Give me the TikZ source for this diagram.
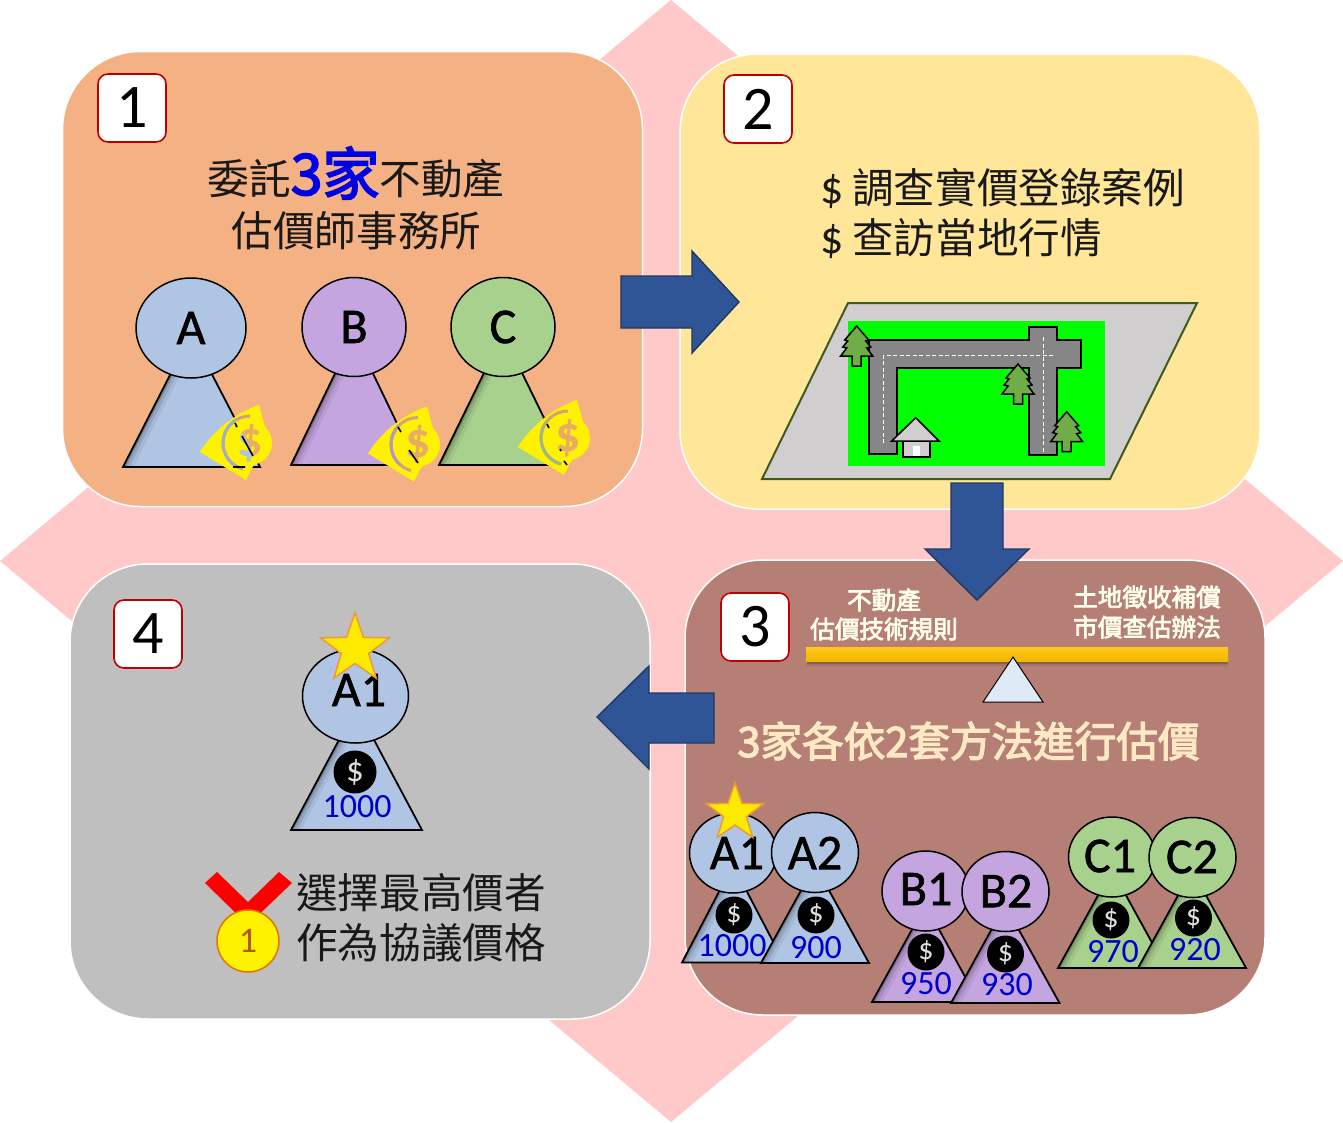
\documentclass[tikz,border=0pt]{standalone}
\usepackage{fontspec}
\usetikzlibrary{shapes.geometric,shapes.misc,calc}
\setmainfont{Carlito}
\newfontfamily\heavy[FakeBold=1.2]{Carlito}
\newfontfamily\cjk{Noto Sans CJK TC}
\newfontfamily\cjkm[FakeBold=3]{Noto Sans CJK TC}
\newcommand\fsz[1]{\fontsize{#1}{#1}\selectfont}
\definecolor{pinkbg}{HTML}{FFC9C9}
\definecolor{pone}{HTML}{F4B183}
\definecolor{ptwo}{HTML}{FFE699}
\definecolor{pthree}{HTML}{B67F75}
\definecolor{pfour}{HTML}{BFBFBF}
\definecolor{arrowblue}{HTML}{2F5597}
\definecolor{arrowedge}{HTML}{1F3864}
\definecolor{pblue}{HTML}{B0C4E4}
\definecolor{ppurple}{HTML}{C5A5E0}
\definecolor{pgreen}{HTML}{A9D18E}
\definecolor{numblue}{HTML}{0000CC}
\definecolor{cream}{HTML}{FFE9C4}
\definecolor{lotgray}{HTML}{D0CECE}
\definecolor{lotedge}{HTML}{3F5A1F}
\definecolor{treegreen}{HTML}{70AD47}
\definecolor{starorange}{HTML}{ED9B33}
\definecolor{fulcrum}{HTML}{DEEBF7}
\definecolor{dollartint}{HTML}{E8AC64}
\definecolor{beamtop}{HTML}{FFC71A}
\definecolor{beambot}{HTML}{F0B800}
\tikzset{
  panel/.style={draw=white,line width=1.5pt,rounded corners=78pt,minimum width=#1,minimum height=455pt,inner sep=0pt},
  numbox/.style={draw=red!75!black,line width=1.6pt,fill=white,rounded corners=10pt,minimum size=68pt,inner sep=0pt,font=\fsz{62}},
  bigarrow/.style={fill=arrowblue,draw=arrowedge,line width=1.4pt,line join=miter},
  head/.style={ellipse,draw=black,line width=1.5pt,inner sep=0pt},
  txt/.style={inner sep=0pt,font=\cjk\fsz{41.6},text=black!90,align=center},
  smalltxt/.style={inner sep=0pt,font=\cjkm\fsz{24.6},text=white!92!yellow,align=center},
  amount/.style={inner sep=0pt,text=numblue,font=\fsz{34}},
  coin/.style={circle,fill=black,inner sep=0pt,text=white!88!black},
  plabel/.style={inner sep=0pt,text=black,font=\heavy\fsz{50}},
  staricon/.style={star,star points=5,star point ratio=2.5,fill=yellow!92!orange,draw=starorange,line width=1.5pt,inner sep=0pt},
  treeicon/.style={fill=treegreen,draw=black,line width=1.5pt,line join=miter},
}
% #1 fill, #2 cx, #3 apex y, #4 left, #5 right, #6 base y
\newcommand\pawnbody[6]{%
  \path[fill=#1] (#4,#6)--(#2,#3)--(#5,#6)--cycle;
  \begin{scope}
    \clip (#4,#6)--(#2,#3)--(#5,#6)--cycle;
    \draw[black,opacity=.06,line width=18pt] (#4,#6)--(#2,#3);
    \draw[black,opacity=.10,line width=11pt] (#4,#6)--(#2,#3);
    \draw[black,opacity=.18,line width=5pt] (#4,#6)--(#2,#3);
  \end{scope}
  \draw[black,line width=1.8pt] (#4,#6)--(#2,#3)--(#5,#6)--cycle;
}
% #1 id, #2 fill, #3 cx, #4 cy, #5 width, #6 height
\newcommand\pawnhead[6]{\node[head,fill=#2,minimum width=#5pt,minimum height=#6pt] (#1) at (#3,#4) {};}
% money icon: #1 id, #2 dx, #3 dy, #4 pawn colour, #5 triangle path for clip, #6 black marks
\newcommand\moneyicon[6]{%
  \begin{scope}[shift={(#2,#3)}]
    \fill[yellow] (200,452) .. controls (212,432) and (235,413) .. (259,405) -- (264,423) -- (270,445) -- (252,468) -- (246,480) -- cycle;
    \draw[line width=3pt,color=pone!70!gray] (250,416) arc[start angle=270,end angle=105,radius=27];
    \node[circle,fill=yellow,minimum size=44pt,inner sep=0pt] (#1coin) at (250,443) {};
    \node[inner sep=0pt,font=\bfseries\fsz{50},text=dollartint] (#1sym) at (250,443) {\$};
  \end{scope}
  \begin{scope}
    \clip #5;
    \begin{scope}[shift={(#2,#3)}]
      \node[inner sep=0pt,font=\bfseries\fsz{50},text=#4] at (250,443) {\$};
      \draw[line width=3pt,color=#4!70!gray] (250,416) arc[start angle=270,end angle=105,radius=27];
    \end{scope}
  \end{scope}
  #6
}
\begin{document}
\begin{tikzpicture}[x=1pt,y=-1pt]
\useasboundingbox (0,0) rectangle (1343,1122);
\fill[white] (0,0) rectangle (1343,1122);
\fill[pinkbg] (671,0)--(1343,561)--(671,1122)--(0,561)--cycle;

% panels
\node[panel=580pt,fill=pone] (p1) at (352.5,279) {};
\node[panel=580pt,fill=ptwo] (p2) at (970,281.5) {};
\node[panel=580pt,fill=pthree] (p3) at (975,787.5) {};
\node[panel=580pt,fill=pfour] (p4) at (360,791.5) {};

% block arrows
\path[bigarrow] (621,276)--(692,276)--(692,251)--(739,302)--(692,353)--(692,328)--(621,328)--cycle;
\path[bigarrow] (951,483)--(1003,483)--(1003,549)--(1029,549)--(977,600)--(925,549)--(951,549)--cycle;
\path[bigarrow] (714,693)--(649,693)--(649,666)--(597,717)--(649,769)--(649,743)--(714,743)--cycle;

% number boxes
\node[numbox] (n1) at (132,108) {1};
\node[numbox] (n2) at (758,109) {2};
\node[numbox] (n3) at (755,627) {3};
\node[numbox] (n4) at (148,634) {4};

% panel 1
\node[txt] (t11) at (356,173) {委託{\cjkm\fsz{57}\textcolor{blue!90!black}{3家}}不動產};
\node[txt] (t12) at (356.5,231) {估價師事務所};

\pawnbody{pblue}{191}{334}{123}{260}{467}
\pawnhead{hA}{pblue}{191}{328}{110}{100}
\node[plabel] (lA) at (191,328) {A};
\moneyicon{mA}{0}{0}{pblue}{(123,467)--(191,334)--(260,467)--cycle}{
  \draw[black,line width=1.6pt] (235,423)--(237,427) (242,436)--(253,456) (233,467)--(245,467) (253,467)--(259,467);}

\pawnbody{ppurple}{354}{334}{291}{417}{465}
\pawnhead{hB}{ppurple}{354}{327}{104}{99}
\node[plabel] (lB) at (354,327) {B};
\moneyicon{mB}{168}{1.5}{ppurple}{(291,465)--(354,334)--(417,465)--cycle}{
  \draw[black,line width=1.6pt] (398,427)--(401,432) (409,450)--(418,463);}

\pawnbody{pgreen}{503}{334}{439}{567}{465}
\pawnhead{hC}{pgreen}{503}{327}{104}{99}
\node[plabel] (lC) at (503,327) {C};
\moneyicon{mC}{318}{-5}{pgreen}{(439,465)--(503,334)--(567,465)--cycle}{
  \draw[black,line width=1.6pt] (547,424)--(549,428) (560,449)--(561,451) (564,461)--(567,465);}

% panel 2
\node[txt,anchor=west] (t21) at (820,188) {\makebox[32pt][l]{\fontspec{Carlito}\fsz{46}\$}調查實價登錄案例};
\node[txt,anchor=west] (t22) at (820,238) {\makebox[32pt][l]{\fontspec{Carlito}\fsz{46}\$}查訪當地行情};
\draw[fill=lotgray,draw=lotedge,line width=2pt] (848,303)--(1197,303)--(1110,479)--(762,479)--cycle;
\fill[green] (848,321) rectangle (1105,466);
\draw[fill=gray!95!white,draw=black,line width=1.5pt,line join=miter]
  (869,454)--(869,340)--(1029,340)--(1029,327)--(1057,327)--(1057,340)--(1081,340)--(1081,368)--(1057,368)--(1057,455)--(1029,455)--(1029,368)--(897,368)--(897,454)--cycle;
\draw[white,line width=1pt,dash pattern=on 4pt off 2.5pt] (883,443)--(883,355.7)--(1055,355.7);
\draw[white,line width=1pt,dash pattern=on 4pt off 2.5pt] (1043,337)--(1043,453);
\foreach \tx/\ty in {856.7/326,1018/364,1066.7/411.7}{
  \path[treeicon,shift={(\tx,\ty)}] (0,0)--(12,14)--(9,15)--(14,21)--(10,22)--(16,30)--(4.5,30)--(4.5,40)--(-4.5,40)--(-4.5,30)--(-16,30)--(-10,22)--(-14,21)--(-9,15)--(-12,14)--cycle;
}
\draw[fill=lotgray,draw=black,line width=1.5pt] (903,441) rectangle (930,457);
\fill[white] (913,446) rectangle (920,456);
\draw[fill=lotgray,draw=black,line width=1.5pt,line join=miter] (915.7,417.7)--(939,441)--(891.7,441)--cycle;

% panel 3
\node[smalltxt] (t31) at (884,600) {不動產};
\node[smalltxt] (t32) at (884,629) {估價技術規則};
\node[smalltxt] (t33) at (1147,597) {土地徵收補償};
\node[smalltxt] (t34) at (1147,627) {市價查估辦法};
\fill[black,opacity=.10] (807,652) rectangle (1228,666);
\fill[black,opacity=.16] (807,652) rectangle (1228,664);
\shade[top color=beamtop,bottom color=beambot] (806,647) rectangle (1228,661);
\draw[fill=fulcrum,draw=black,line width=1pt,line join=miter] (1013,657)--(1043,702)--(983,702)--cycle;
\node[inner sep=0pt,font=\cjkm\fsz{41.6},text=cream] (t35) at (968.5,741) {3家各依2套方法進行估價};

\pawnbody{pblue}{733}{865}{682}{784}{962.5}
\pawnhead{hA1}{pblue}{733}{853}{87}{80}
\pawnbody{pblue}{815}{865}{761}{869}{963}
\pawnhead{hA2}{pblue}{815}{852.5}{87}{80}
\node[coin,minimum size=37pt,font=\fsz{30}] (cA1) at (734,915) {\$};
\node[coin,minimum size=37pt,font=\fsz{30}] (cA2) at (816,915) {\$};
\node[amount] (vA1) at (732,946) {1000};
\node[amount] (vA2) at (816,948) {900};
\node[plabel] (lA1) at (737,853) {A1};
\node[plabel] (lA2) at (815,853) {A2};
\node[staricon,minimum size=60pt] (sA1) at (735,813) {};

\pawnbody{ppurple}{925.5}{905}{872}{979}{1002}
\pawnhead{hB1}{ppurple}{925.5}{891}{87}{80}
\pawnbody{ppurple}{1005}{905}{951}{1059.5}{1003}
\pawnhead{hB2}{ppurple}{1005.5}{891.5}{87}{80}
\node[coin,minimum size=37pt,font=\fsz{30}] (cB1) at (926,952) {\$};
\node[coin,minimum size=37pt,font=\fsz{30}] (cB2) at (1005.5,954) {\$};
\node[amount] (vB1) at (926,984) {950};
\node[amount] (vB2) at (1007,985) {930};
\node[plabel] (lB1) at (926,889) {B1};
\node[plabel] (lB2) at (1006,891) {B2};

\pawnbody{pgreen}{1112}{870}{1058}{1166}{968}
\pawnhead{hC1}{pgreen}{1112}{857}{87}{80}
\pawnbody{pgreen}{1192}{870}{1138}{1246}{968}
\pawnhead{hC2}{pgreen}{1192.5}{857.5}{87}{80}
\node[coin,minimum size=37pt,font=\fsz{30}] (cC1) at (1111,920) {\$};
\node[coin,minimum size=37pt,font=\fsz{30}] (cC2) at (1193.5,918) {\$};
\node[amount] (vC1) at (1113,952) {970};
\node[amount] (vC2) at (1195,950) {920};
\node[plabel] (lC1) at (1110,856) {C1};
\node[plabel] (lC2) at (1192,857) {C2};

% panel 4
\pawnbody{pblue}{356.5}{707}{291}{422}{830}
\pawnhead{hW}{pblue}{355.5}{696}{106}{94}
\node[coin,minimum size=43pt,font=\fsz{35}] (cW) at (355,772) {\$};
\node[amount] (vW) at (357,807) {1000};
\node[plabel] (lW) at (359,690) {A1};
\node[staricon,minimum size=72pt] (sW) at (355,649) {};
\fill[red] (205,883)--(217,872)--(248,902)--(279,872)--(292,883)--(248,925)--cycle;
\node[circle,fill=yellow,draw=orange!90!black,line width=1.5pt,minimum size=62pt,inner sep=0pt,text=orange!70!black,font=\fsz{36}] (medal) at (248,941) {1};
\node[txt] (t41) at (421,893) {選擇最高價者};
\node[txt] (t42) at (421,943) {作為協議價格};
\end{tikzpicture}
\end{document}
